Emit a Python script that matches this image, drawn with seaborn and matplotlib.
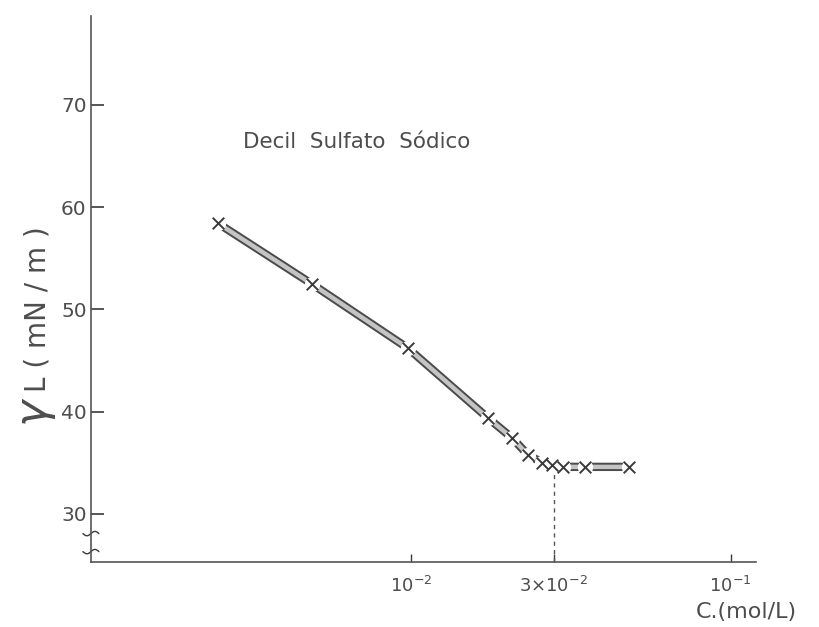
import numpy as np
import pandas as pd
import matplotlib
matplotlib.use("Agg")
import matplotlib.pyplot as plt
import matplotlib.patheffects as pe
import seaborn as sns

# ---- data ----
conc = [2.5e-3, 4.9e-3, 9.8e-3, 1.74e-2, 2.08e-2, 2.32e-2, 2.58e-2, 2.76e-2, 2.99e-2, 3.5e-2, 4.8e-2]
gamma = [58.4, 52.5, 46.2, 39.4, 37.4, 35.8, 35.0, 34.8, 34.6, 34.6, 34.6]
cmc = 2.8e-2
ytick_vals = [30, 40, 50, 60, 70]
xtick_vals = [1e-2, cmc, 1e-1]
xtick_labels = [r"10$^{-2}$", r"3$\times$10$^{-2}$", r"10$^{-1}$"]
title_text = "Decil  Sulfato  Sódico"
xlabel_text = "C.(mol/L)"
ylabel_sym = r"$\gamma$"
ylabel_text = "L ( mN / m )"

sns.set_theme(style="white")
plt.rcParams["font.family"] = ["DejaVu Sans"]
plt.rcParams["mathtext.fontset"] = "dejavusans"

df = pd.DataFrame({"C": conc, "g": gamma})

fig = plt.figure(figsize=(8.19, 6.27), dpi=100)
ax = fig.add_axes([0.111, 0.1037, 0.812, 0.871])

ink = "#3a3a3a"
txt = "#4d4d4d"

# connecting thick "hatched" line
sns.lineplot(data=df, x="C", y="g", ax=ax, color="#c4c4c4", linewidth=3.2,
             sort=False, zorder=2,
             path_effects=[pe.Stroke(linewidth=6.0, foreground="#4a4a4a"), pe.Normal()])
# white gaps around markers
ax.plot(conc, gamma, linestyle="none", marker="o", markersize=10,
        markerfacecolor="white", markeredgecolor="white", zorder=3)
# cross markers
sns.scatterplot(data=df, x="C", y="g", ax=ax, marker="x", s=70,
                color=ink, linewidth=1.4, zorder=4)

ax.set_xscale("log")
ax.set_xlim(1e-3, 0.12)
ax.set_ylim(25.3, 78.7)

# dashed CMC line
ax.plot([cmc, cmc], [25.3, gamma[8] - 0.7], linestyle=(0, (3, 3)),
        color="#555555", linewidth=1.0, zorder=1)

ax.set_yticks(ytick_vals)
ax.set_yticklabels([str(v) for v in ytick_vals])
ax.set_xticks(xtick_vals)
ax.set_xticklabels(xtick_labels)
ax.minorticks_off()
ax.tick_params(axis="y", direction="in", length=9, width=1.2, colors=ink,
               labelsize=14.5, pad=3, left=True)
ax.tick_params(axis="x", direction="in", length=6, width=1.0, colors=ink,
               labelsize=13, pad=10, bottom=True)
for lab in ax.get_yticklabels() + ax.get_xticklabels():
    lab.set_color(txt)

for s in ["top", "right"]:
    ax.spines[s].set_visible(False)
for s in ["left", "bottom"]:
    ax.spines[s].set_color("#555555")
    ax.spines[s].set_linewidth(1.2)

ax.set_xlabel("")
ax.set_ylabel("")

# axis break marks
for yb in [0.052, 0.019]:
    t = np.linspace(-0.012, 0.012, 30)
    ax.plot(t, yb + 0.004 * np.sin(t / 0.012 * np.pi), transform=ax.transAxes,
            color=ink, linewidth=1.0, clip_on=False)

fig.text(243 / 819, 1 - 142 / 627, title_text, fontsize=15.5, color=txt,
         ha="left", va="center")
fig.text(36 / 819, 1 - 412 / 627, ylabel_sym, fontsize=32, color=txt,
         rotation=90, ha="center", va="center")
fig.text(38 / 819, 1 - 392 / 627, ylabel_text, fontsize=20, color=txt,
         rotation=90, ha="center", va="bottom")
fig.text(797 / 819, 1 - 612 / 627, xlabel_text, fontsize=16, color=txt,
         ha="right", va="center")

fig.savefig("out.png", dpi=100, facecolor="white")
